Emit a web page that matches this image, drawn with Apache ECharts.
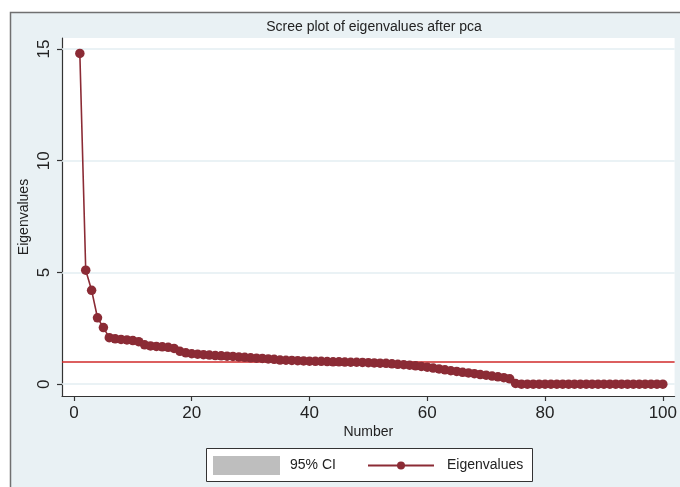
<!DOCTYPE html>
<html>
<head>
<meta charset="utf-8">
<script src="https://cdn.jsdelivr.net/npm/echarts@6/dist/echarts.min.js"></script>
<style>
html,body{margin:0;padding:0;background:#fff;}
#chart{width:680px;height:487px;}
</style>
</head>
<body>
<div id="chart"></div>
<script>
// Component numbers 1..100
const numbers = [];
for (let i = 1; i <= 100; i++) numbers.push(i);

// Eigenvalues
const eigenvalues = [
  14.8, 5.1, 4.2, 2.97, 2.53, 2.08, 2.03, 2.0, 1.98, 1.95,
  1.9, 1.76, 1.71, 1.69, 1.67, 1.65, 1.6, 1.47, 1.4, 1.36,
  1.34, 1.32, 1.3, 1.28, 1.27, 1.25, 1.24, 1.22, 1.2, 1.18,
  1.16, 1.15, 1.13, 1.11, 1.08, 1.07, 1.06, 1.05, 1.04, 1.03,
  1.02, 1.02, 1.01, 1.0, 1.0, 0.99, 0.98, 0.98, 0.97, 0.96,
  0.95, 0.94, 0.93, 0.91, 0.89, 0.87, 0.85, 0.82, 0.79, 0.76,
  0.72, 0.68, 0.64, 0.6, 0.57, 0.53, 0.5, 0.47, 0.43, 0.4,
  0.36, 0.33, 0.29, 0.24, 0.03, 0, 0, 0, 0, 0,
  0, 0, 0, 0, 0, 0, 0, 0, 0, 0,
  0, 0, 0, 0, 0, 0, 0, 0, 0, 0
];

const xTicks = [0, 20, 40, 60, 80, 100];
const yTicks = [0, 5, 10, 15];
const referenceLine = 1;

const titleText = 'Scree plot of eigenvalues after pca';
const xName = 'Number';
const yName = 'Eigenvalues';
const ciName = '95% CI';

const points = numbers.map((n, i) => [n, eigenvalues[i]]);

const FONT = '"Liberation Sans", Arial, sans-serif';
const chart = echarts.init(document.getElementById('chart'), null, {renderer: 'canvas'});

chart.setOption({
  animation: false,
  backgroundColor: '#ffffff',
  textStyle: {fontFamily: FONT},
  graphic: [
    {
      type: 'rect', z: -10, silent: true,
      shape: {x: 10.5, y: 12.5, width: 680, height: 480},
      style: {fill: '#e9f1f4', stroke: '#707070', lineWidth: 1.5}
    },
    {
      type: 'rect', z: -5, silent: true,
      shape: {x: 206.5, y: 448.5, width: 326, height: 33},
      style: {fill: '#ffffff', stroke: '#333333', lineWidth: 1}
    }
  ],
  title: {
    text: titleText,
    left: 374,
    top: 20,
    padding: 0,
    textAlign: 'center',
    textStyle: {fontFamily: FONT, fontSize: 14, fontWeight: 'normal', color: '#222'}
  },
  grid: {
    left: 62, right: 3, top: 38, bottom: 91,
    show: true, backgroundColor: '#ffffff', borderWidth: 0,
    containLabel: false
  },
  legend: [
    {
      data: [{name: ciName, icon: 'rect', itemStyle: {color: '#bebebe'}}],
      left: 213, top: 456, padding: 0,
      itemWidth: 67, itemHeight: 19,
      selectedMode: false,
      textStyle: {fontFamily: FONT, fontSize: 14, color: '#222', padding: [0, 0, 0, 5]}
    },
    {
      data: [yName],
      left: 367, top: 458.5, padding: 0,
      itemWidth: 66, itemHeight: 10,
      selectedMode: false,
      textStyle: {fontFamily: FONT, fontSize: 14, color: '#222', padding: [0, 0, 0, 8]}
    }
  ],
  xAxis: {
    type: 'value',
    min: -2.03, max: 102,
    name: xName, nameLocation: 'middle', nameGap: 29,
    nameMoveOverlap: false,
    nameTextStyle: {fontFamily: FONT, fontSize: 14, color: '#222'},
    axisLine: {show: true, onZero: false, lineStyle: {color: '#333', width: 1.2}},
    axisTick: {show: true, length: 5, customValues: xTicks, lineStyle: {color: '#333', width: 1.2}},
    axisLabel: {customValues: xTicks, margin: 9, fontFamily: FONT, fontSize: 17, color: '#222'},
    splitLine: {show: false}
  },
  yAxis: {
    type: 'value',
    min: -0.53, max: 15.49,
    name: yName, nameLocation: 'middle', nameGap: 31, nameRotate: 90,
    nameMoveOverlap: false,
    nameTextStyle: {fontFamily: FONT, fontSize: 14, color: '#222'},
    axisLine: {show: true, onZero: false, lineStyle: {color: '#333', width: 1.2}},
    axisTick: {show: true, length: 5, customValues: yTicks, lineStyle: {color: '#333', width: 1.2}},
    axisLabel: {customValues: yTicks, rotate: 90, margin: 9, fontFamily: FONT, fontSize: 17, color: '#222'},
    splitLine: {show: false}
  },
  series: [
    {
      name: ciName,
      type: 'line',
      data: [],
      z: 1,
      itemStyle: {color: '#bebebe'},
      markLine: {
        silent: true,
        symbol: 'none',
        label: {show: false},
        animation: false,
        data: yTicks.map(v => ({yAxis: v, lineStyle: {color: '#e3eef2', width: 1.5, type: 'solid'}}))
          .concat([{yAxis: referenceLine, lineStyle: {color: '#d02a2a', width: 1.6, type: 'solid'}}])
      }
    },
    {
      name: yName,
      type: 'line',
      z: 5,
      data: points,
      symbol: 'circle',
      symbolSize: 9.5,
      showSymbol: true,
      itemStyle: {color: '#8b2b35'},
      lineStyle: {color: '#8b2b35', width: 1.6}
    }
  ]
});
</script>
</body>
</html>
